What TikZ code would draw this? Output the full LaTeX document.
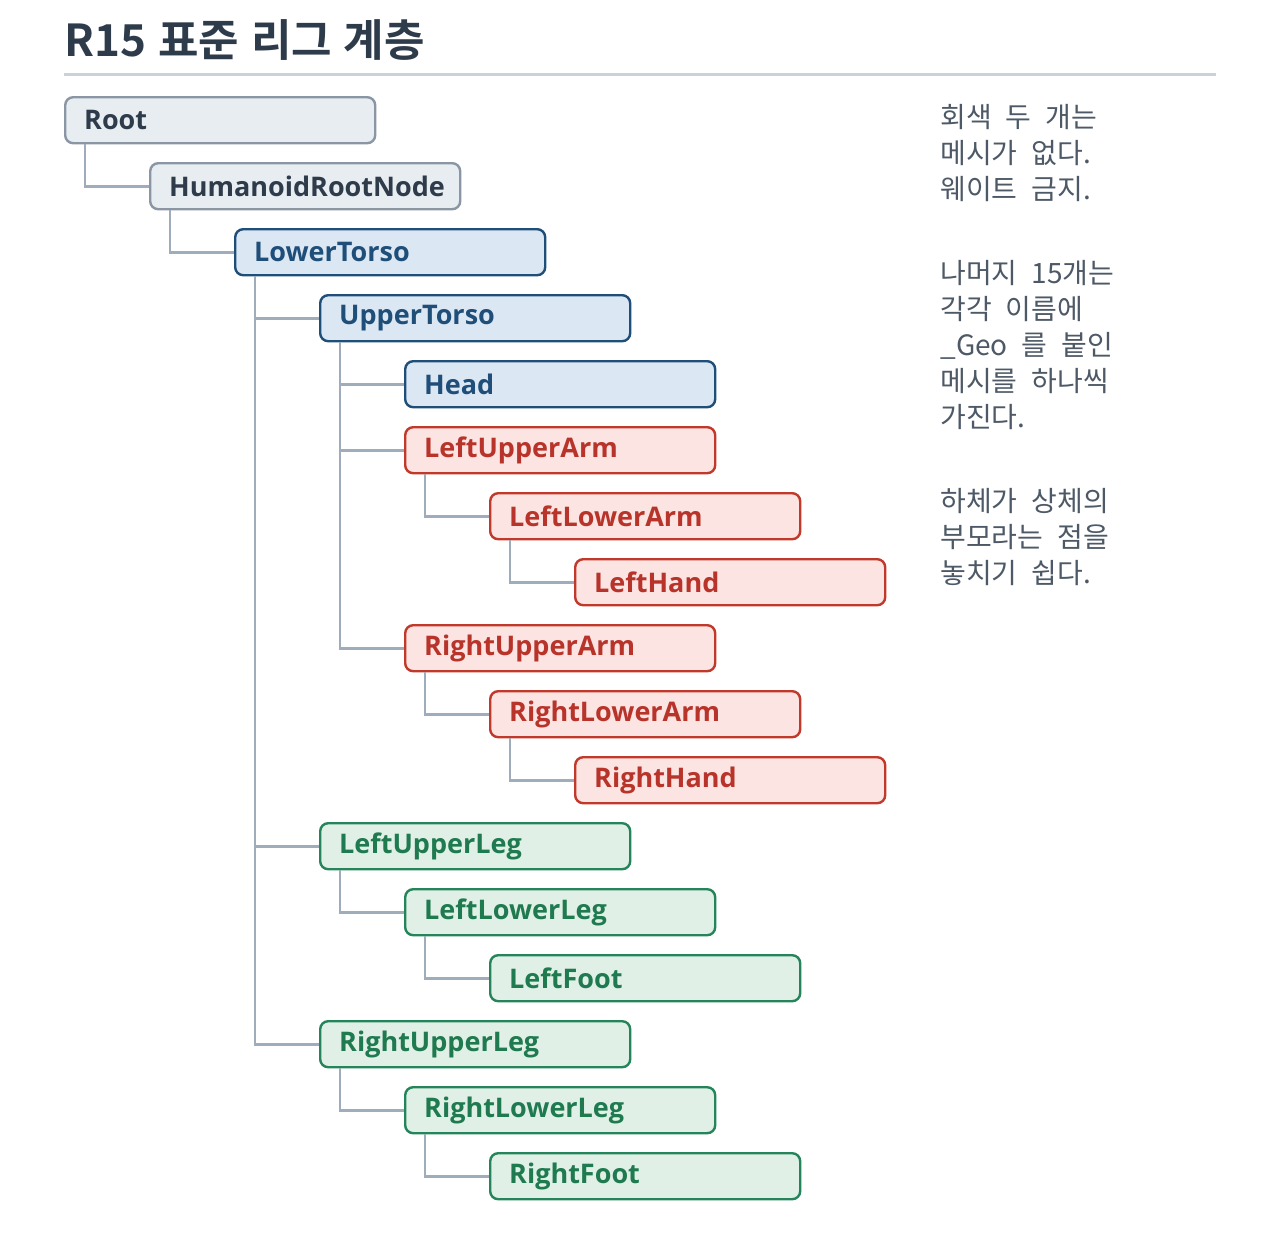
\documentclass[tikz,border=0pt]{standalone}
\usepackage{fontspec}
\setmainfont{Open Sans}
\newfontfamily\kr{Noto Sans CJK KR}[BoldFont=* Bold]
\newcommand\notefont{\kr\fontsize{14}{18}\selectfont\spaceskip=0.5em\relax}
\newcommand\titlefont{\kr\bfseries\fontsize{22}{24}\selectfont\spaceskip=0.27em\relax}
\definecolor{grayfill}{HTML}{E8EDF2}
\definecolor{graydraw}{HTML}{8A96A4}
\definecolor{graytext}{HTML}{2E3B4A}
\definecolor{bluefill}{HTML}{DCE7F4}
\definecolor{bluedraw}{HTML}{1F4E79}
\definecolor{redfill}{HTML}{FBE4E2}
\definecolor{reddraw}{HTML}{C0392B}
\definecolor{redtext}{HTML}{B8342A}
\definecolor{greenfill}{HTML}{E0F0E7}
\definecolor{greendraw}{HTML}{25845A}
\definecolor{greentext}{HTML}{1F7A4F}
\definecolor{linkcol}{HTML}{9EACBB}
\definecolor{rulecol}{HTML}{C9D1DA}
\definecolor{notecol}{HTML}{4D5966}
\begin{document}
\begin{tikzpicture}[x=0.5pt,y=-0.5pt,
bone/.style={draw,rectangle,rounded corners=4pt,line width=1.2pt,anchor=north west,
  minimum width=155pt,minimum height=23pt,inner xsep=9.5pt,inner ysep=0pt,
  text width=136pt,align=left,font=\bfseries\fontsize{13.5}{16}\selectfont},
graybone/.style={bone,fill=grayfill,draw=graydraw,text=graytext},
bluebone/.style={bone,fill=bluefill,draw=bluedraw,text=bluedraw},
redbone/.style={bone,fill=redfill,draw=reddraw,text=redtext},
greenbone/.style={bone,fill=greenfill,draw=greendraw,text=greentext},
link/.style={draw=linkcol,line width=1.4pt},
note/.style={anchor=north west,inner sep=0pt,align=left,text=notecol,font=\notefont}]
\useasboundingbox (0,0) rectangle (1280,1259);

% title
\node[anchor=base west,inner sep=0pt,text=graytext,font=\titlefont]
  (title) at (64,56) {R15 표준 리그 계층};
\draw[rulecol,line width=1.5pt] (64,74) -- (1216,74);

% rig hierarchy
\node[graybone] (root) at (64,96) {Root};
\node[graybone] (hrn) at (149,162) {HumanoidRootNode};
\node[bluebone] (lt) at (234,228) {LowerTorso};
\node[bluebone] (ut) at (319,294) {UpperTorso};
\node[bluebone] (head) at (404,360) {Head};
\node[redbone] (lua) at (404,426) {LeftUpperArm};
\node[redbone] (lla) at (489,492) {LeftLowerArm};
\node[redbone] (lh) at (574,558) {LeftHand};
\node[redbone] (rua) at (404,624) {RightUpperArm};
\node[redbone] (rla) at (489,690) {RightLowerArm};
\node[redbone] (rh) at (574,756) {RightHand};
\node[greenbone] (lul) at (319,822) {LeftUpperLeg};
\node[greenbone] (lll) at (404,888) {LeftLowerLeg};
\node[greenbone] (lf) at (489,954) {LeftFoot};
\node[greenbone] (rul) at (319,1020) {RightUpperLeg};
\node[greenbone] (rll) at (404,1086) {RightLowerLeg};
\node[greenbone] (rf) at (489,1152) {RightFoot};

\draw[link] ([xshift=10.5pt]root.south west) |- (hrn.west);
\draw[link] ([xshift=10.5pt]hrn.south west) |- (lt.west);
\draw[link] ([xshift=10.5pt]lt.south west) |- (ut.west);
\draw[link] ([xshift=10.5pt]lt.south west) |- (lul.west);
\draw[link] ([xshift=10.5pt]lt.south west) |- (rul.west);
\draw[link] ([xshift=10.5pt]ut.south west) |- (head.west);
\draw[link] ([xshift=10.5pt]ut.south west) |- (lua.west);
\draw[link] ([xshift=10.5pt]ut.south west) |- (rua.west);
\draw[link] ([xshift=10.5pt]lua.south west) |- (lla.west);
\draw[link] ([xshift=10.5pt]lla.south west) |- (lh.west);
\draw[link] ([xshift=10.5pt]rua.south west) |- (rla.west);
\draw[link] ([xshift=10.5pt]rla.south west) |- (rh.west);
\draw[link] ([xshift=10.5pt]lul.south west) |- (lll.west);
\draw[link] ([xshift=10.5pt]lll.south west) |- (lf.west);
\draw[link] ([xshift=10.5pt]rul.south west) |- (rll.west);
\draw[link] ([xshift=10.5pt]rll.south west) |- (rf.west);

% notes
\node[note] (note1) at (940,104) {회색 두 개는\\메시가 없다.\\웨이트 금지.};
\node[note] (note2) at (940,260) {나머지 15개는\\각각 이름에\\\_Geo 를 붙인\\메시를 하나씩\\가진다.};
\node[note] (note3) at (940,488) {하체가 상체의\\부모라는 점을\\놓치기 쉽다.};
\end{tikzpicture}
\end{document}
